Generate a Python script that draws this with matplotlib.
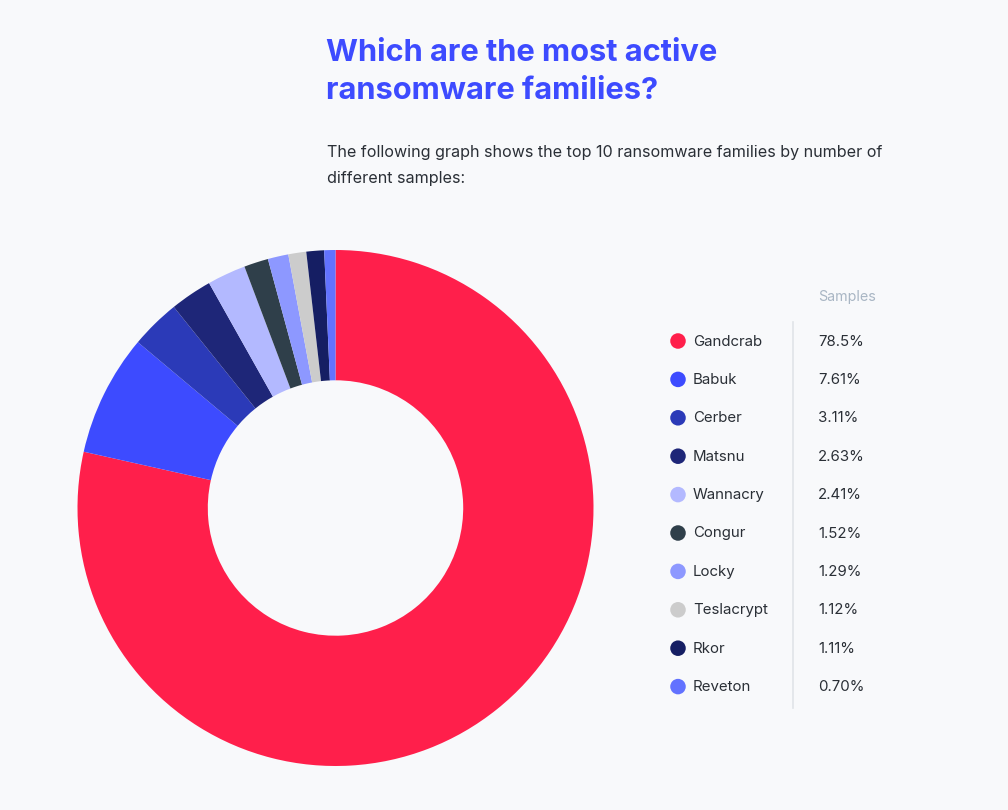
import matplotlib
matplotlib.use("Agg")
import matplotlib.pyplot as plt

families = ["Gandcrab", "Babuk", "Cerber", "Matsnu", "Wannacry", "Congur",
            "Locky", "Teslacrypt", "Rkor", "Reveton"]
shares = [78.5, 7.61, 3.11, 2.63, 2.41, 1.52, 1.29, 1.12, 1.11, 0.70]
share_labels = ["78.5%", "7.61%", "3.11%", "2.63%", "2.41%", "1.52%",
                "1.29%", "1.12%", "1.11%", "0.70%"]
colors = ["#FF1F4B", "#3D4BFF", "#2B3AB8", "#1E2678", "#B3B9FF", "#2F3F4A",
          "#8D98FF", "#CCCCCC", "#151E63", "#6272FF"]

W, H = 1008, 810
BG = "#F8F9FB"
fig = plt.figure(figsize=(W / 100, H / 100), dpi=100, facecolor=BG)

# donut
cx, cy, R = 335.5, 508, 258
ax = fig.add_axes([(cx - R) / W, 1 - (cy + R) / H, 2 * R / W, 2 * R / H])
ax.set_facecolor(BG)
ax.pie(shares, colors=colors, startangle=90, counterclock=False, radius=1,
       wedgeprops=dict(width=0.505, edgecolor="none", linewidth=0))
ax.set_xlim(-1, 1)
ax.set_ylim(-1, 1)
ax.set_aspect("equal")
ax.axis("off")

# overlay in pixel coordinates
ov = fig.add_axes([0, 0, 1, 1], facecolor="none")
ov.set_xlim(0, W)
ov.set_ylim(H, 0)
ov.axis("off")

title_font = ["Inter", "DejaVu Sans"]
body_font = ["Inter", "DejaVu Sans"]
ov.text(326, 53, "Which are the most active", fontsize=22.2, fontweight="bold",
        color="#3D4BFF", family=title_font, va="center", ha="left")
ov.text(326, 91, "ransomware families?", fontsize=22.2, fontweight="bold",
        color="#3D4BFF", family=title_font, va="center", ha="left")
ov.text(327, 152, "The following graph shows the top 10 ransomware families by number of",
        fontsize=11.6, color="#2A2F36", family=body_font, va="center", ha="left")
ov.text(327, 178, "different samples:",
        fontsize=11.6, color="#2A2F36", family=body_font, va="center", ha="left")

# legend table
ov.text(818, 297, "Samples", fontsize=10.3, color="#A9B6C4",
        family=body_font, va="center", ha="left")
ov.plot([793, 793], [322, 708], color="#E1E4E8", lw=1.2)
y0, dy = 341, 38.4
for i, (name, lab, c) in enumerate(zip(families, share_labels, colors)):
    y = y0 + i * dy
    ov.scatter([678], [y], s=125, color=c, edgecolors="none")
    ov.text(693, y + 0.5, name, fontsize=10.8, color="#2A2F36",
            family=body_font, va="center", ha="left")
    ov.text(818, y + 0.5, lab, fontsize=10.8, color="#2A2F36",
            family=body_font, va="center", ha="left")

fig.savefig("out.png", dpi=100, facecolor=BG)
